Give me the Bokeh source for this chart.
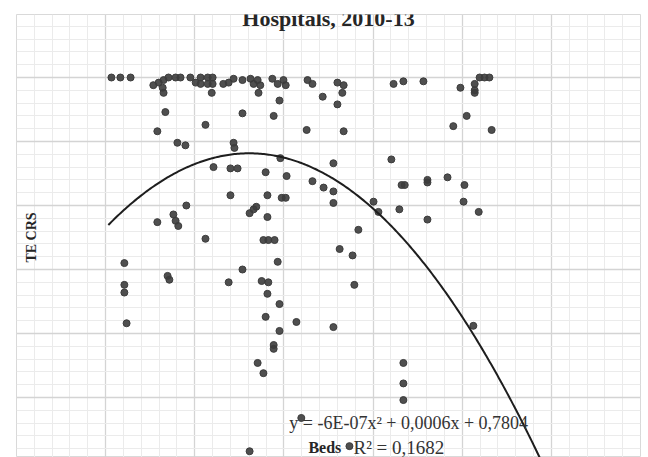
import numpy as np
from bokeh.plotting import figure
from bokeh.models import Range1d, SingleIntervalTicker, Label, ColumnDataSource
from bokeh.embed import file_html
from bokeh.resources import INLINE

# ---- data ----
beds = [213, 233, 256, 307, 319, 330, 341, 357, 368, 328, 330, 390, 402, 413, 413, 429, 440, 429, 440, 438,
        464, 476, 487, 507, 525, 532, 541, 547, 543, 574, 586, 599, 604, 590, 653, 664, 687, 720, 734, 731,
        720, 846, 868, 913, 996, 1028, 1028, 1028, 1039, 1050, 1061,
        334, 507, 577, 316, 424, 651, 734, 1010, 980, 1066, 361, 379, 487, 489, 592, 711,
        442, 480, 496, 559, 606, 841, 664, 689, 711, 711, 864, 871, 922, 922, 480, 563, 595, 604,
        523, 532, 538, 563, 801, 812, 859, 922, 967, 1005, 1003, 1037, 381, 316, 352, 357, 363, 424,
        767, 554, 565, 579, 725, 754, 586, 507, 242, 339, 343, 242, 242, 476, 550, 565, 563, 590, 758,
        247, 559, 628, 590, 577, 577, 711, 1025, 541, 554, 868, 868, 868, 639, 747, 523]
te_crs = [1.000, 1.000, 1.000, 0.994, 0.996, 0.998, 1.000, 1.000, 1.000, 0.992, 0.988, 1.000, 0.996, 1.000, 0.995,
          1.000, 1.000, 0.995, 0.995, 0.988, 0.995, 0.996, 0.999, 0.998, 0.999, 0.995, 0.998, 0.994, 0.988, 0.999,
          0.995, 0.998, 0.994, 0.982, 0.998, 0.995, 0.985, 0.996, 0.994, 0.988, 0.979, 0.995, 0.997, 0.997, 0.992,
          0.995, 0.990, 0.988, 1.000, 1.000, 1.000,
          0.973, 0.972, 0.970, 0.958, 0.963, 0.959, 0.958, 0.970, 0.962, 0.959, 0.949, 0.947, 0.949, 0.945, 0.937, 0.933,
          0.930, 0.929, 0.929, 0.926, 0.923, 0.936, 0.919, 0.914, 0.911, 0.902, 0.916, 0.916, 0.920, 0.918, 0.908, 0.908,
          0.906, 0.906, 0.894, 0.897, 0.899, 0.891, 0.903, 0.895, 0.897, 0.889, 0.922, 0.916, 0.903, 0.895, 0.900, 0.887,
          0.893, 0.888, 0.884, 0.874, 0.881, 0.873, 0.873, 0.873, 0.866, 0.861, 0.856, 0.850, 0.855, 0.845, 0.842, 0.838,
          0.832, 0.840, 0.841, 0.840, 0.831, 0.823, 0.838, 0.808, 0.813, 0.809, 0.802, 0.791, 0.788, 0.805, 0.806, 0.777,
          0.769, 0.777, 0.761, 0.748, 0.734, 0.712, 0.708]

# polynomial trendline (coefficients as drawn in the chart)
trend_coef = [-5.6e-07, 0.000585, 0.788]
trend_end = 1250

title_text = "Hospitals, 2010-13"
y_title = "TE CRS"
x_title = "Beds"
eq_text = "y = -6E-07x² + 0,0006x + 0,7804"
r2_text = "R² = 0,1682"

# ---- figure ----
p = figure(width=648, height=457, output_backend="svg", toolbar_location=None, title=None,
           x_range=Range1d(0, 1400), y_range=Range1d(0.703125, 1.04921875),
           min_border_left=16, min_border_right=8, min_border_top=14, min_border_bottom=0,
           background_fill_color="white", border_fill_color="white")
p.xaxis.visible = False
p.yaxis.visible = False
p.xgrid.ticker = SingleIntervalTicker(interval=200, num_minor_ticks=5)
p.ygrid.ticker = SingleIntervalTicker(interval=0.05, num_minor_ticks=5)
for g in (p.xgrid, p.ygrid):
    g.grid_line_color = "#d4d4d4"
    g.grid_line_width = 1.3
    g.minor_grid_line_color = "#ebebeb"
    g.minor_grid_line_width = 1
p.outline_line_color = "#d9d9d9"

src = ColumnDataSource(dict(x=beds, y=te_crs))
p.scatter("x", "y", source=src, size=7, fill_color="#3c3c3c", line_color="#3c3c3c", fill_alpha=0.9)

xs = np.linspace(min(beds) - 7, trend_end, 300)
ys = np.polyval(trend_coef, xs)
p.line(xs, ys, line_color="#1e1e1e", line_width=2)

font = "Liberation Serif"
p.add_layout(Label(x=700, y=1.0461, text=title_text, text_font=font, text_font_size="22px",
                   text_font_style="bold", text_align="center", text_baseline="middle", text_color="#262626"))
p.add_layout(Label(x=33.7, y=0.875, text=y_title, text_font=font, text_font_size="14px", angle=np.pi / 2,
                   text_font_style="bold", text_align="center", text_baseline="middle", text_color="#262626"))
p.add_layout(Label(x=612, y=0.7297, text=eq_text, text_font=font, text_font_size="18px",
                   text_align="left", text_baseline="middle", text_color="#333333"))
p.add_layout(Label(x=655, y=0.7109, text=x_title, text_font=font, text_font_size="16px",
                   text_font_style="bold", text_align="left", text_baseline="middle", text_color="#262626"))
p.add_layout(Label(x=756, y=0.7109, text=r2_text, text_font=font, text_font_size="19px",
                   text_align="left", text_baseline="middle", text_color="#333333"))

open("out.html", "w").write(file_html(p, INLINE))
